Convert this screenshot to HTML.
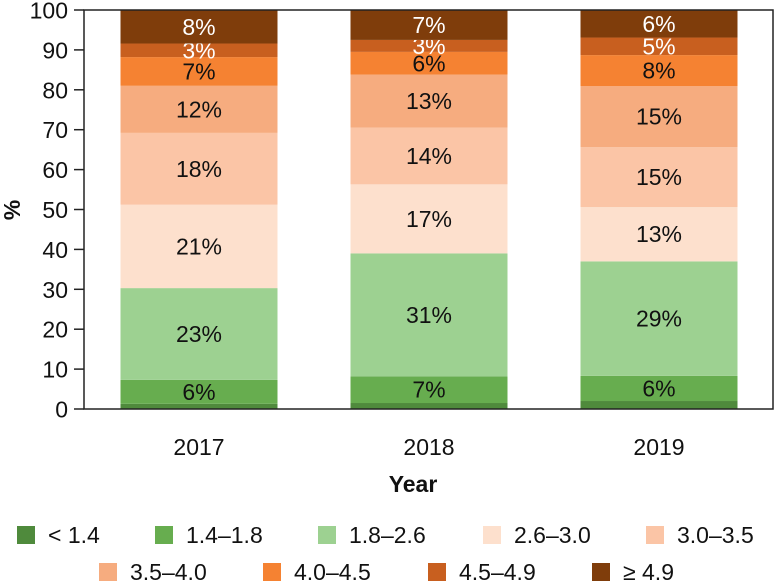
<!DOCTYPE html>
<html><head><meta charset="utf-8"><style>
body{margin:0;background:#fff;}
svg{display:block;font-family:"Liberation Sans","DejaVu Sans",sans-serif;}
</style></head><body>
<svg id="chart" width="775" height="584"></svg>
<script>
const years=["2017","2018","2019"];
const categories=["< 1.4","1.4–1.8","1.8–2.6","2.6–3.0","3.0–3.5","3.5–4.0","4.0–4.5","4.5–4.9","≥ 4.9"];
const values2017=[1.3,6,23,20.9,18,11.8,7.2,3.4,8.4];
const values2018=[1.5,6.7,30.8,17.3,14.2,13.3,5.7,3,7.5];
const values2019=[2,6.3,28.7,13.6,15,15.3,7.8,4.4,6.9];
const labels2017=["","6%","23%","21%","18%","12%","7%","3%","8%"];
const labels2018=["","7%","31%","17%","14%","13%","6%","3%","7%"];
const labels2019=["","6%","29%","13%","15%","15%","8%","5%","6%"];
const yTicks=[0,10,20,30,40,50,60,70,80,90,100];
const colors=["#4f8a3c","#67ad4f","#9dd191","#fde0cd","#fbc5a6","#f6ac7f","#f58232","#c85f1f","#7f3d0b"];
const seriesValues=[values2017,values2018,values2019];
const seriesLabels=[labels2017,labels2018,labels2019];
const NS="http://www.w3.org/2000/svg";
const svg=document.getElementById('chart');
const L=84,R=774,T=10,B=409;
const y=v=>B-(B-T)*v/100;
const band=(R-L)/years.length;
const xc=i=>L+band*(i+0.5);
const bw=157;
const FS=23;
function mk(tag,attrs,parent){const e=document.createElementNS(NS,tag);for(const k in attrs)e.setAttribute(k,attrs[k]);(parent||svg).appendChild(e);return e;}
seriesValues.forEach((vals,i)=>{
  let cum=0;
  vals.forEach((v,j)=>{
    const r=mk('rect',{x:xc(i)-bw/2,y:y(cum+v),width:bw,height:y(cum)-y(cum+v),fill:colors[j]});
    
    
    const lab=seriesLabels[i][j];
    if(lab){
      const t=mk('text',{x:xc(i),y:y(cum+v/2)+8,'text-anchor':'middle','font-size':FS,fill:(j>=7?'#fff':'#111')});
      t.textContent=lab;
      
      
    }
    cum+=v;
  });
  const xt=mk('text',{x:xc(i),y:455,'text-anchor':'middle','font-size':FS,fill:'#111'});
  xt.textContent=years[i];
  
  
});
const fr=mk('rect',{x:L,y:T,width:R-L-1,height:B-T,fill:'none',stroke:'#222','stroke-width':1.5});


yTicks.forEach(v=>{
  const ln=mk('line',{x1:74,x2:L,y1:y(v),y2:y(v),stroke:'#222','stroke-width':1.5});
  
  
  const t=mk('text',{x:68,y:y(v)+8.5,'text-anchor':'end','font-size':FS,fill:'#111'});
  t.textContent=v;
  
  
});
const yt=mk('text',{x:20,y:210,'text-anchor':'middle','font-size':FS,'font-weight':'bold',fill:'#111',transform:'rotate(-90 20 210)'});
yt.textContent='%';


const xt=mk('text',{x:413,y:492,'text-anchor':'middle','font-size':FS,'font-weight':'bold',fill:'#111'});
xt.textContent='Year';


const legX=[17,155,318,483,646,99,263,428,592];
const legY=[526,526,526,526,526,563,563,563,563];
categories.forEach((c,j)=>{
  const g=mk('g',{});
  
  
  mk('rect',{x:legX[j],y:legY[j],width:18,height:18,fill:colors[j]},g);
  const t=mk('text',{x:legX[j]+31,y:legY[j]+17,'font-size':FS,fill:'#111'},g);
  t.textContent=c;
});
</script>
</body></html>
